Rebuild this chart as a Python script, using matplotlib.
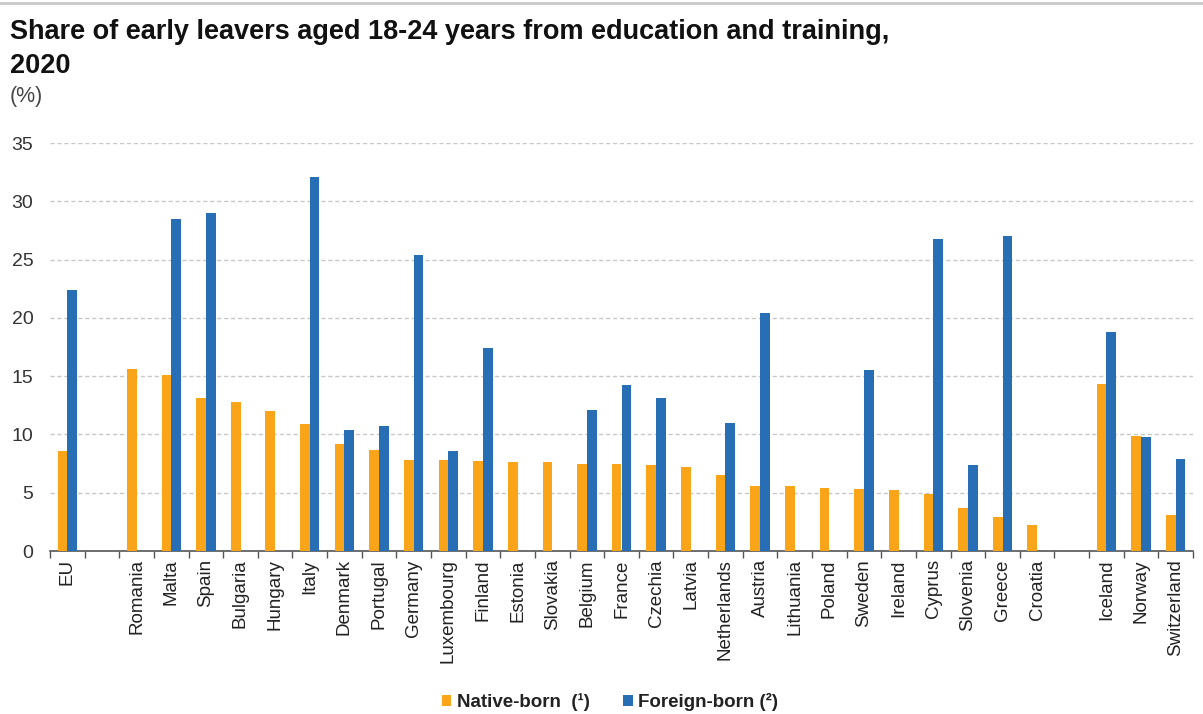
import numpy as np
import matplotlib
matplotlib.use("Agg")
import matplotlib.pyplot as plt
from matplotlib.lines import Line2D
from matplotlib.patches import Patch

plt.rcParams['font.family'] = ['Liberation Sans', 'DejaVu Sans']

# Country groups (EU aggregate, EU members, EFTA countries) separated by a blank slot
eu_total = ["EU"]
members = ["Romania", "Malta", "Spain", "Bulgaria", "Hungary", "Italy", "Denmark",
           "Portugal", "Germany", "Luxembourg", "Finland", "Estonia", "Slovakia",
           "Belgium", "France", "Czechia", "Latvia", "Netherlands", "Austria",
           "Lithuania", "Poland", "Sweden", "Ireland", "Cyprus", "Slovenia",
           "Greece", "Croatia"]
efta = ["Iceland", "Norway", "Switzerland"]

native_born = [8.6,
               15.6, 15.1, 13.1, 12.8, 12.0, 10.9, 9.2, 8.7, 7.8, 7.8, 7.7, 7.6, 7.6,
               7.5, 7.5, 7.4, 7.2, 6.5, 5.6, 5.6, 5.4, 5.3, 5.2, 4.9, 3.7, 2.9, 2.2,
               14.3, 9.9, 3.1]
foreign_born = [22.4,
                np.nan, 28.5, 29.0, np.nan, np.nan, 32.1, 10.4, 10.7, 25.4, 8.6, 17.4,
                np.nan, np.nan, 12.1, 14.2, 13.1, np.nan, 11.0, 20.4, np.nan, np.nan,
                15.5, np.nan, 26.8, 7.4, 27.0, np.nan,
                18.8, 9.8, 7.9]

ORANGE = "#FAA519"
BLUE = "#286EB4"

groups = [eu_total, members, efta]
labels, positions = [], []
slot = 0
for g in groups:
    for name in g:
        labels.append(name)
        positions.append(slot)
        slot += 1
    slot += 1  # blank slot between groups
n_slots = slot - 1
positions = np.array(positions, dtype=float)

fig = plt.figure(figsize=(12.03, 7.14), dpi=100)
ax = fig.add_axes([50 / 1203, 1 - 551 / 714, 1143 / 1203, 408 / 714])

w = 0.28
ax.bar(positions - w / 2, native_born, width=w, color=ORANGE, zorder=3)
ax.bar(positions + w / 2, foreign_born, width=w, color=BLUE, zorder=3)

ax.set_xlim(-0.5, n_slots - 0.5)
ax.set_ylim(0, 35)
ax.set_yticks(np.arange(0, 36, 5))
ax.yaxis.grid(True, color="#C8C8C8", linestyle=(0, (3, 2)), linewidth=1.0, zorder=0)
ax.tick_params(axis="y", length=0, labelsize=14, labelcolor="#333333", pad=12)

ax.set_xticks(positions)
ax.set_xticklabels(labels, rotation=90, fontsize=13.5, color="#222222", va="top", ha="center")
ax.tick_params(axis="x", which="major", length=0, pad=6)
ax.set_xticks(np.arange(-0.5, n_slots, 1.0), minor=True)
ax.tick_params(axis="x", which="minor", length=5, width=1, color="#555555", direction="out")

for s in ["top", "right", "left"]:
    ax.spines[s].set_visible(False)
ax.spines["bottom"].set_color("#555555")
ax.spines["bottom"].set_linewidth(1.2)

# Titles
fig.text(10 / 1203, 1 - 39 / 714, "Share of early leavers aged 18-24 years from education and training,",
         fontsize=19.5, fontweight="bold", color="#111111", ha="left", va="baseline")
fig.text(10 / 1203, 1 - 73 / 714, "2020", fontsize=19.5, fontweight="bold",
         color="#111111", ha="left", va="baseline")
fig.text(10 / 1203, 1 - 102 / 714, "(%)", fontsize=15.5, color="#444444",
         ha="left", va="baseline")

# Top frame line
fig.add_artist(Line2D([0, 1], [1 - 2.5 / 714, 1 - 2.5 / 714], transform=fig.transFigure,
                      color="#C8C8C8", linewidth=2))

handles = [Patch(facecolor=ORANGE, edgecolor="none"), Patch(facecolor=BLUE, edgecolor="none")]
leg = fig.legend(handles, ["Native-born  (¹)", "Foreign-born (²)"], loc="center",
                 bbox_to_anchor=(610 / 1203, 1 - 702 / 714), ncol=2, frameon=False,
                 handlelength=0.5, handleheight=0.5, handletextpad=0.3, columnspacing=1.8,
                 prop={"weight": "bold", "size": 13.5})
for t in leg.get_texts():
    t.set_color("#222222")

fig.savefig("out.png", dpi=100, facecolor="white")
